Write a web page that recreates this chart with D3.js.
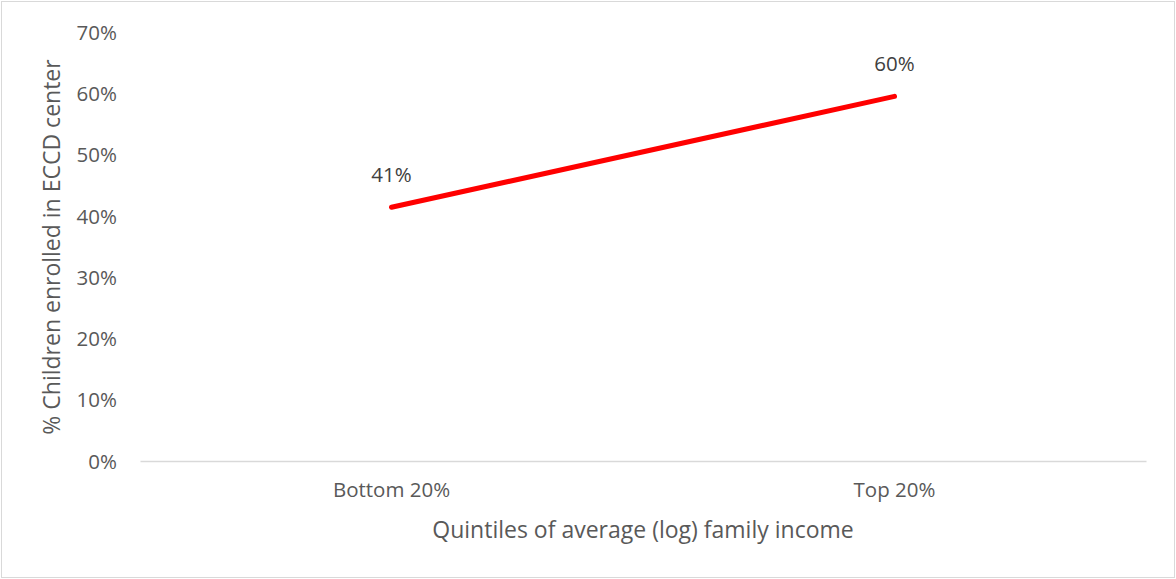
<!DOCTYPE html>
<html><head><meta charset="utf-8">
<script src="https://cdn.jsdelivr.net/npm/d3@7"></script>
<style>
body{margin:0;background:#fff;}
text{font-family:"Open Sans",sans-serif;fill:#595959;}
</style></head>
<body><svg id="c" width="1176" height="579"></svg>
<script>
const categories = ["Bottom 20%", "Top 20%"];
const values = [0.414, 0.595];
const dataLabels = ["41%", "60%"];
const yTicks = [0, 0.1, 0.2, 0.3, 0.4, 0.5, 0.6, 0.7];
const xTitle = "Quintiles of average (log) family income";
const yTitle = "% Children enrolled in ECCD center";

const svg = d3.select("#c");
svg.append("rect").attr("x",1.5).attr("y",1.5).attr("width",1173).attr("height",576)
  .attr("fill","#fff").attr("stroke","#d9d9d9").attr("stroke-width",1);

const m = {left:140, right:1146, top:32, bottom:461};
const x = d3.scaleBand().domain(categories).range([m.left, m.right]);
const y = d3.scaleLinear().domain([0,0.7]).range([m.bottom, m.top]);

const fs = "20.5px";
// y axis labels
const yAxis = d3.axisLeft(y).tickValues(yTicks).tickFormat(d3.format(".0%")).tickSize(0).tickPadding(23);
const gy = svg.append("g").attr("transform",`translate(${m.left},0)`).call(yAxis);
gy.select(".domain").remove();
gy.selectAll("text").style("font-size",fs).style("font-family","'Open Sans',sans-serif").attr("fill","#595959").attr("dy","0.35em");

// x axis
const xAxis = d3.axisBottom(x).tickSize(0).tickPadding(21);
const gx = svg.append("g").attr("transform",`translate(0,${y(0)})`).call(xAxis);
gx.select(".domain").attr("stroke","#d9d9d9").attr("stroke-width",1.5);
gx.selectAll("text").style("font-size",fs).style("font-family","'Open Sans',sans-serif").attr("fill","#595959");

// line
const line = d3.line().x((d,i)=>x(categories[i])+x.bandwidth()/2).y(d=>y(d));
svg.append("path").datum(values).attr("d",line).attr("fill","none")
  .attr("stroke","#ff0000").attr("stroke-width",5).attr("stroke-linecap","round");

// data labels
svg.selectAll(".dl").data(values).enter().append("text").attr("class","dl")
  .attr("x",(d,i)=>x(categories[i])+x.bandwidth()/2)
  .attr("y",d=>y(d)-25).attr("text-anchor","middle")
  .style("font-size",fs).style("fill","#404040").text((d,i)=>dataLabels[i]);

// titles
svg.append("text").attr("x",643).attr("y",538).attr("text-anchor","middle")
  .style("font-size","23px").text(xTitle);
svg.append("text").attr("transform","translate(60,247) rotate(-90)").attr("text-anchor","middle")
  .style("font-size","23px").text(yTitle);
</script></body></html>
